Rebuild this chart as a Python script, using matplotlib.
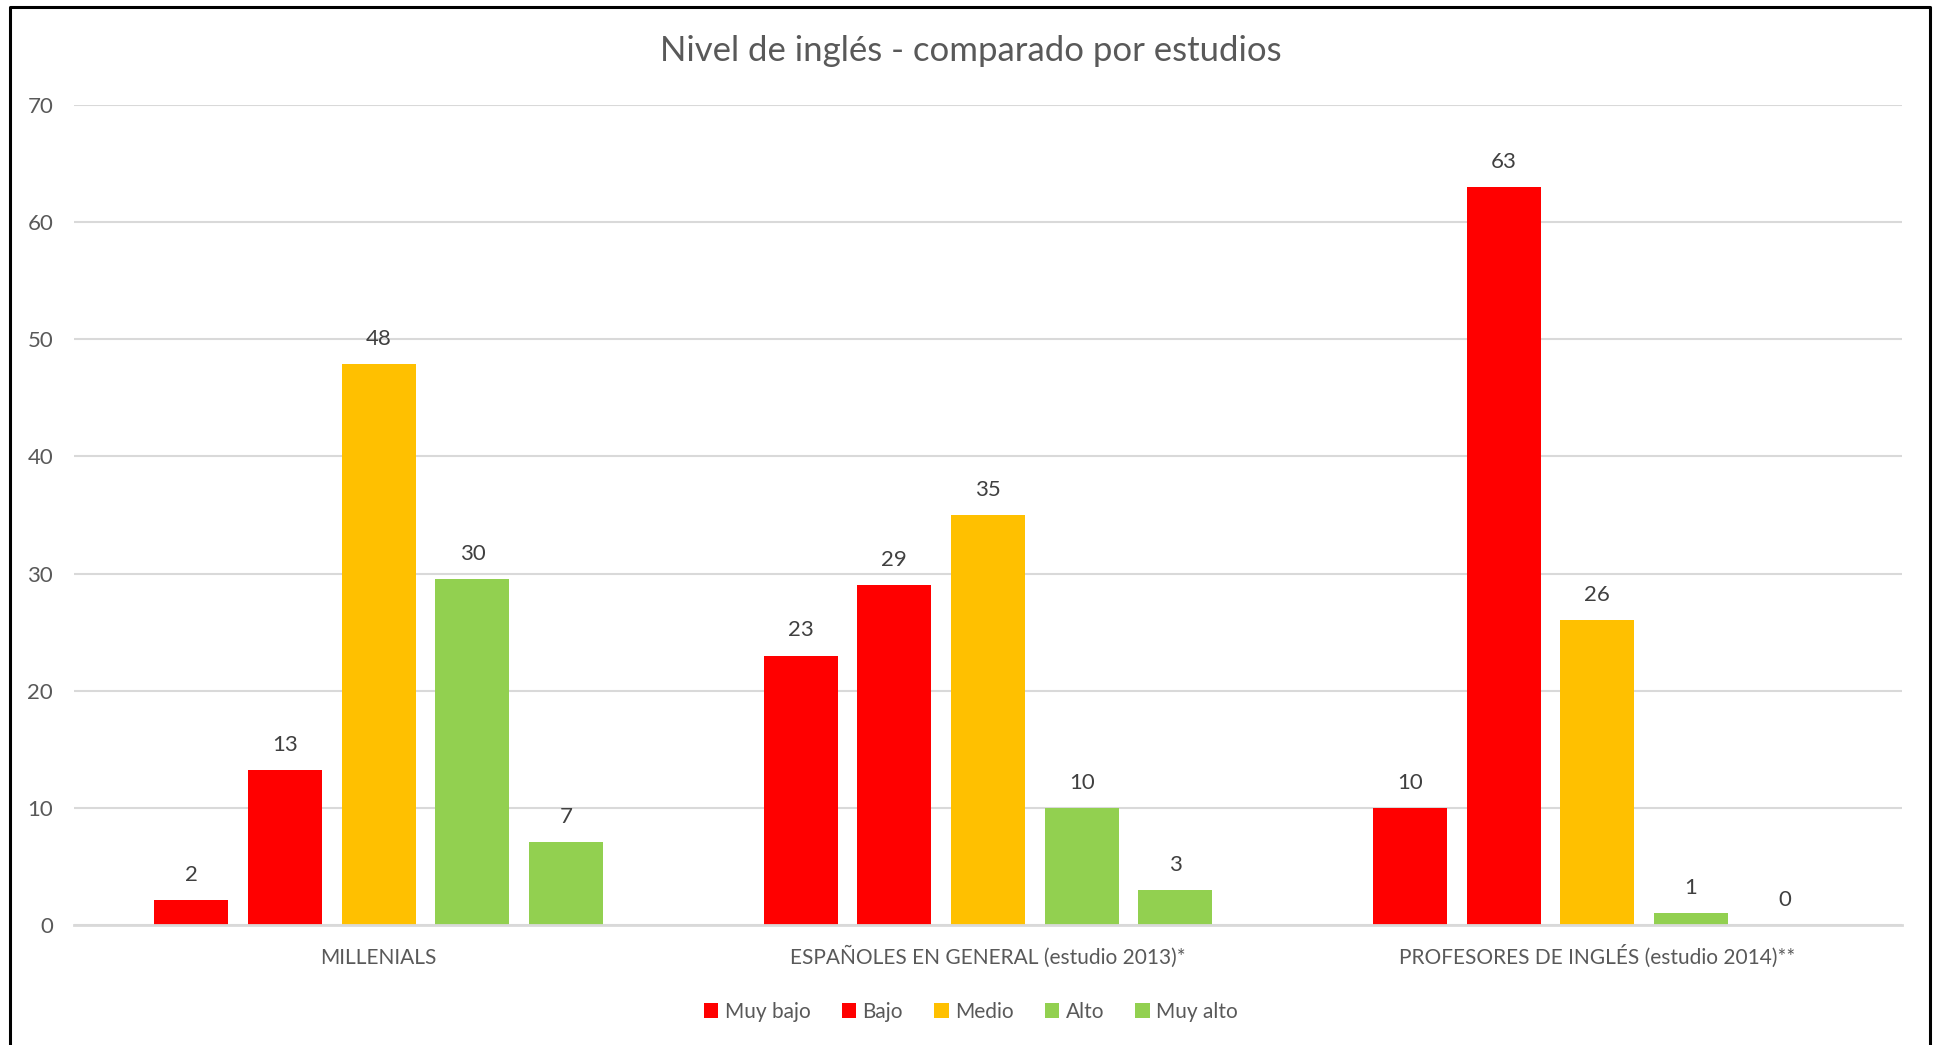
import matplotlib
matplotlib.use("Agg")
import matplotlib.pyplot as plt
import numpy as np
from matplotlib.lines import Line2D
from matplotlib.patches import Patch

plt.rcParams['font.family'] = ['Lato', 'DejaVu Sans']

categories = ["MILLENIALS", "ESPAÑOLES EN GENERAL (estudio 2013)*", "PROFESORES DE INGLÉS (estudio 2014)**"]
series_names = ["Muy bajo", "Bajo", "Medio", "Alto", "Muy alto"]
muy_bajo = [2.1, 23, 10]
bajo = [13.2, 29, 63]
medio = [47.9, 35, 26]
alto = [29.5, 10, 1]
muy_alto = [7.1, 3, 0]
series_values = [muy_bajo, bajo, medio, alto, muy_alto]
colors = ["#FF0000", "#FF0000", "#FFC000", "#92D050", "#92D050"]
yticks = [0, 10, 20, 30, 40, 50, 60, 70]

fig = plt.figure(figsize=(19.34, 10.45), dpi=100)
ax = fig.add_axes([0.0383, 0.1148, 0.9451, 0.7849])

x = np.arange(len(categories))
spacing = 0.1538
width = 0.1215
for i, (vals, c) in enumerate(zip(series_values, colors)):
    pos = x + (i - 2) * spacing
    ax.bar(pos, vals, width=width, color=c, zorder=3, label=series_names[i])
    for p, v in zip(pos, vals):
        ax.text(p, v + 1.3, str(int(v + 0.5)), ha="center", va="bottom", fontsize=16,
                color="#404040", zorder=4)

ax.set_xlim(-0.5, 2.5)
ax.set_ylim(0, 70)
ax.set_yticks(yticks)
ax.set_yticklabels([str(t) for t in yticks])
ax.yaxis.grid(True, color="#D9D9D9", linewidth=1.5, zorder=0)
ax.set_axisbelow(True)
for s in ["top", "right", "left"]:
    ax.spines[s].set_visible(False)
ax.spines["bottom"].set_color("#D9D9D9")
ax.spines["bottom"].set_linewidth(2)
ax.spines["bottom"].set_zorder(5)
ax.tick_params(axis="y", length=0, labelsize=16, labelcolor="#595959", pad=15)
ax.tick_params(axis="x", length=0, labelsize=15, labelcolor="#595959", pad=28)
ax.set_xticks(x)
ax.set_xticklabels(categories)
for lab in ax.get_xticklabels():
    lab.set_verticalalignment("baseline")

fig.text(0.502, 0.9516, "Nivel de inglés - comparado por estudios", ha="center", va="center",
         fontsize=25, color="#595959")

handles = [Patch(facecolor=c, edgecolor="none") for c in colors]
fig.legend(handles, series_names, loc="center", bbox_to_anchor=(0.502, 0.032), ncol=5,
           frameon=False, fontsize=15, labelcolor="#595959", handlelength=0.7,
           handleheight=0.7, handletextpad=0.3, columnspacing=1.5)

# outer frame (left, top, right)
fig.add_artist(Line2D([0.0052, 0.0052, 0.9977, 0.9977], [0.0, 0.9930, 0.9930, 0.0],
                      transform=fig.transFigure, color="black", linewidth=2.2))

fig.savefig("out.png", dpi=100, facecolor="white")
